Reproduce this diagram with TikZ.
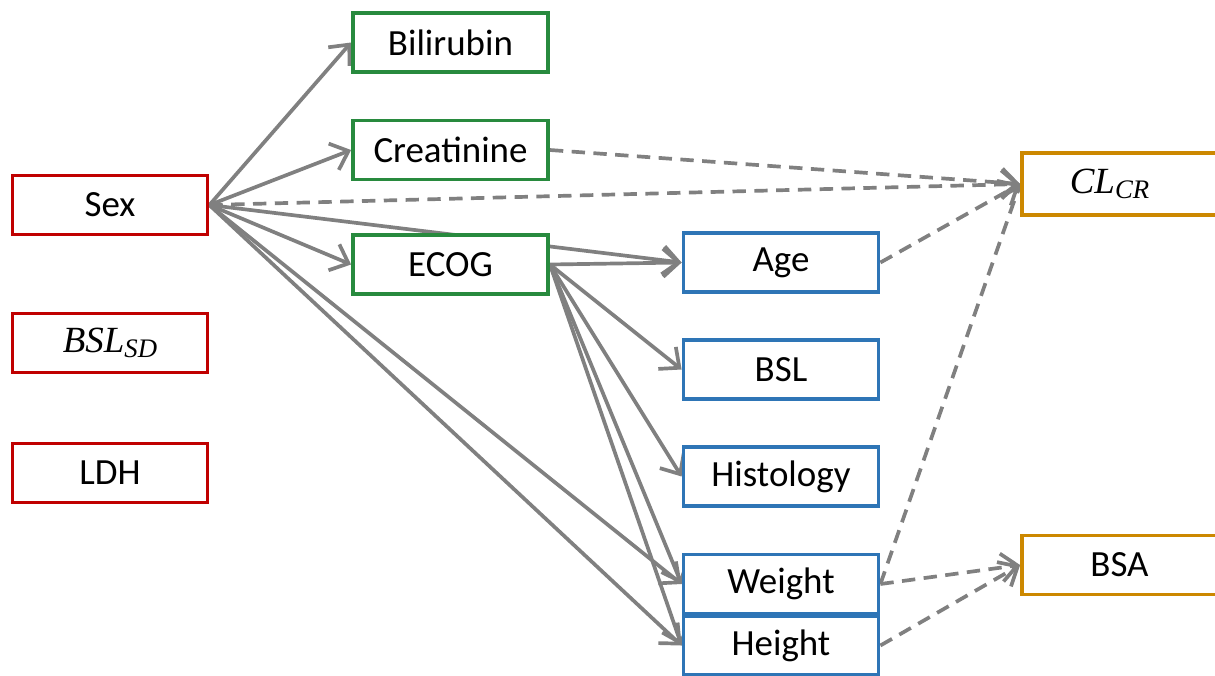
\documentclass[tikz,border=0pt]{standalone}
\usepackage{fontspec}
\setmainfont{Carlito}
\newfontfamily\symbolserif{Liberation Serif}
\usetikzlibrary{arrows.meta}
\pgfdeclarelayer{edges}
\pgfsetlayers{edges,main}

\definecolor{boxred}{RGB}{192,0,0}
\definecolor{boxgreen}{RGB}{40,138,62}
\definecolor{boxblue}{RGB}{46,117,182}
\definecolor{boxgold}{RGB}{204,136,0}
\definecolor{linkgray}{RGB}{128,128,128}

% italic symbol with a lowered subscript
\newcommand{\symb}[2]{{\symbolserif\itshape #1\raisebox{-0.3ex}{\fontsize{7.6pt}{8pt}\selectfont #2}}}

\begin{document}
\begin{tikzpicture}[x=0.01cm,y=-0.01cm,
  var/.style={draw, fill=white, line width=1.05pt, minimum width=1.95cm,
    minimum height=0.59cm, inner sep=0pt, font=\fontsize{10.5pt}{12pt}\selectfont},
  redbox/.style={var, draw=boxred},
  greenbox/.style={var, draw=boxgreen},
  bluebox/.style={var, draw=boxblue},
  goldbox/.style={var, draw=boxgold},
  link/.style={draw=linkgray, line width=1.05pt,
    -{Straight Barb[length=4.5pt,width=8pt,line width=1.05pt]}},
  weak/.style={link, dash pattern=on 3.8pt off 2.4pt}]

\clip (0,0) rectangle (1215,675);
\useasboundingbox (0,0) rectangle (1215,675);

% exogenous covariates
\node[redbox] (sex)   at (110,205) {Sex};
\node[redbox] (bslsd) at (110,343) {\symb{BSL}{SD}};
\node[redbox] (ldh)   at (110,473) {LDH};

% laboratory values and performance status
\node[greenbox] (bili)  at (450.5,42.5) {Bilirubin};
\node[greenbox] (creat) at (450.5,150)  {Creatinine};
\node[greenbox] (ecog)  at (450.5,264.5) {ECOG};

% patient characteristics
\node[bluebox] (age)    at (781,262.5) {Age};
\node[bluebox] (bsl)    at (781,369.5) {BSL};
\node[bluebox] (hist)   at (781,476.5) {Histology};
\node[bluebox] (weight) at (781,584)   {Weight};
\node[bluebox] (height) at (781,645.5) {Height};

% derived quantities
\node[goldbox, minimum height=0.62cm] (clcr) at (1119.5,184) {\symb{CL}{CR}\hspace*{0.2cm}};
\node[goldbox] (bsa) at (1119.5,565) {BSA};

\begin{pgfonlayer}{edges}
  % effects of sex
  \draw[link] (sex.east) -- (bili.west);
  \draw[link] (sex.east) -- (creat.west);
  \draw[link] (sex.east) -- (ecog.west);
  \draw[link] (sex.east) -- (age.west);
  \draw[link] (sex.east) -- (weight.west);
  \draw[link] (sex.east) -- (height.west);
  % effects of ECOG
  \draw[link] (ecog.east) -- (age.west);
  \draw[link] (ecog.east) -- (bsl.west);
  \draw[link] (ecog.east) -- (hist.west);
  \draw[link] (ecog.east) -- (weight.west);
  \draw[link] (ecog.east) -- (height.west);
  % deterministic relations
  \draw[weak] (creat.east)  -- (clcr.west);
  \draw[weak] (sex.east)    -- (clcr.west);
  \draw[weak] (age.east)    -- (clcr.west);
  \draw[weak] (weight.east) -- (clcr.west);
  \draw[weak] (weight.east) -- (bsa.west);
  \draw[weak] (height.east) -- (bsa.west);
\end{pgfonlayer}
\end{tikzpicture}
\end{document}
